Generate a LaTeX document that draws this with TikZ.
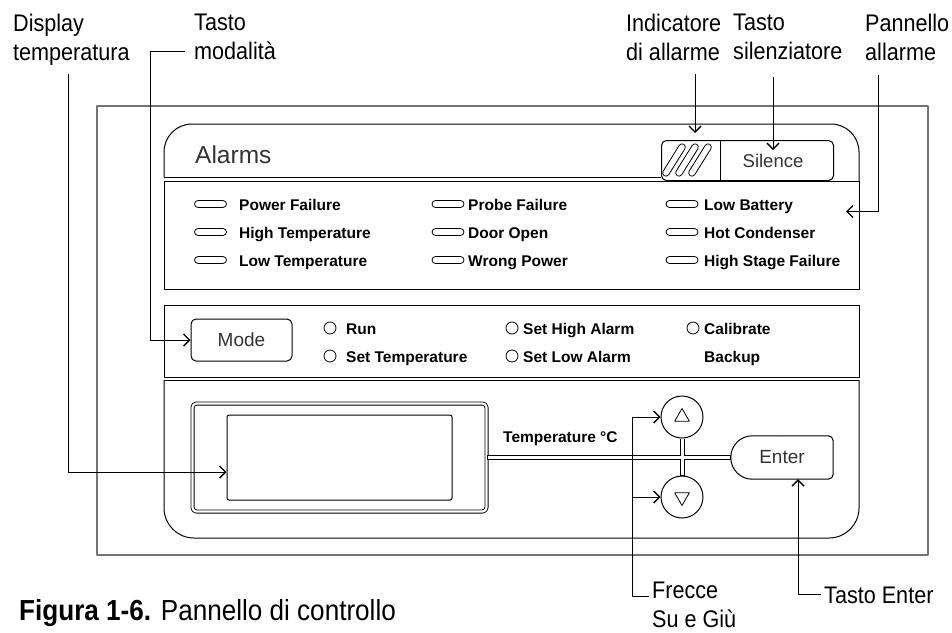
\documentclass[tikz,border=0pt]{standalone}
\usepackage{fontspec}
\setmainfont{Liberation Sans}
\newfontfamily\calloutfont[FakeStretch=0.9]{Liberation Sans}
\usetikzlibrary{shapes.geometric,arrows.meta,positioning,calc}

\tikzset{
  calloutline/.style={line width=1pt, -{Straight Barb[length=6pt,width=12pt,line width=1.4pt]}},
  lbl/.style={font=\calloutfont\fontsize{24}{29}\selectfont, align=left, inner sep=0pt, anchor=north west},
  item/.style={font=\bfseries\fontsize{15.5}{18}\selectfont, inner sep=0pt, anchor=base west},
  led/.style={draw, line width=0.8pt, rounded corners=3.5pt, minimum width=32pt, minimum height=7pt, inner sep=0pt},
  slot/.style={draw, line width=0.8pt, rounded corners=3.3pt, minimum width=37pt, minimum height=6.6pt, inner sep=0pt, rotate=58},
  radio/.style={circle, draw, line width=0.8pt, minimum size=12pt, inner sep=0pt},
  btn/.style={draw, line width=1pt, rounded corners=5pt, text=black!80, font=\fontsize{19}{22}\selectfont},
  panel/.style={draw, line width=1pt, inner sep=0pt, anchor=north west},
  arrowbtn/.style={circle, draw, line width=1pt, minimum size=42pt, inner sep=0pt},
  tri/.style={regular polygon, regular polygon sides=3, draw, line width=0.8pt, minimum size=17pt, inner sep=0pt}
}

\begin{document}
\begin{tikzpicture}[x=1pt, y=-1pt, line join=round]
  \useasboundingbox (0,0) rectangle (952,632);

  % Housing
  \draw[black!55, line width=1.4pt] (97,106) rectangle (928,555);

  % Alarm header
  \draw[line width=1pt, rounded corners=28pt] (164,177) -- (164,124) -- (859,124) -- (859,181);
  \node[item, font=\fontsize{24.5}{28}\selectfont, text=black!80] (alarmsttl) at (195,163) {Alarms};
  \node[panel, rounded corners=5pt, minimum width=172, minimum height=40] (indbox) at (661,140) {};
  \node[inner sep=0pt, minimum width=59, minimum height=40, anchor=north west] (indic) at (661,140) {};
  \draw[line width=1pt] (164,177) -- (661,177);
  \draw[line width=1pt] (indic.north east) -- (indic.south east);
  \foreach \dx [count=\i] in {0,13,26}
    \node[slot] (hatch\i) at ({674+\dx},160) {};
  \node[text=black!80, font=\fontsize{18.5}{22}\selectfont] (silence) at (773,160.5) {Silence};

  % Alarm list
  \node[panel, minimum width=695, minimum height=108] (alarmlist) at (164,181) {};
  \foreach \yy/\a/\b/\c [count=\i] in {204/Power Failure/Probe Failure/Low Battery,
      232/High Temperature/Door Open/Hot Condenser,
      260/Low Temperature/Wrong Power/High Stage Failure} {
    \node[led] (leda\i) at (210.5,\yy) {};
    \node[led] (ledb\i) at (448,\yy) {};
    \node[led] (ledc\i) at (682,\yy) {};
    \node[item] (alma\i) at (239,\yy+6) {\a};
    \node[item] (almb\i) at (468,\yy+6) {\b};
    \node[item] (almc\i) at (704,\yy+6) {\c};
  }

  % Mode panel
  \node[panel, minimum width=695, minimum height=72] (modepanel) at (164,305) {};
  \node[btn, minimum width=101, minimum height=42] (mode) at (241.5,340) {Mode};
  \node[radio] (rrun) at (330,328) {};
  \node[item] (trun) at (346,334) {Run};
  \node[radio] (rsettemp) at (330,356) {};
  \node[item] (tsettemp) at (346,362) {Set Temperature};
  \node[radio] (rhigh) at (512,328) {};
  \node[item] (thigh) at (523,334) {Set High Alarm};
  \node[radio] (rlow) at (512,356) {};
  \node[item] (tlow) at (523,362) {Set Low Alarm};
  \node[radio] (rcal) at (693,328) {};
  \node[item] (tcal) at (704,334) {Calibrate};
  \node[item] (tback) at (704,362) {Backup};

  % Display panel
  \draw[line width=1pt, rounded corners=30pt] (164,380) -- (164,538) -- (859,538) -- (859,380);
  \draw[line width=1pt] (164,380) -- (859,380);
  \node[draw, line width=0.9pt, double, double distance=2.2pt, rounded corners=4pt,
        minimum width=294, minimum height=108] (dispframe) at (339.5,457.5) {};
  \node[draw, line width=1pt, rounded corners=2pt, minimum width=225, minimum height=85] (screen) at (339.5,457.5) {};
  \node[item] (templbl) at (503,442) {Temperature °C};
  \node[arrowbtn] (up) at (682,417) {};
  \node[arrowbtn] (down) at (682,497) {};
  \node[tri] (uptri) at (up) {};
  \node[tri, shape border rotate=180] (downtri) at (down) {};
  \node[text=black!80, font=\fontsize{19}{22}\selectfont, minimum width=102, minimum height=43,
        inner sep=0pt] (enter) at (782,457.5) {Enter};
  \draw[line width=1pt, rounded corners=21.5pt] (enter.north) -- (enter.north west) -- (enter.south west) -- (enter.south);
  \draw[line width=1pt, rounded corners=5pt] (enter.north) -- (enter.north east) -- (enter.south east) -- (enter.south);

  % Rails
  \draw[line width=5pt] (dispframe.east) -- (enter.west) (up.south) -- (down.north);
  \draw[white, line width=3pt, shorten <=0.6pt, shorten >=0.6pt] (dispframe.east) -- (enter.west);
  \draw[white, line width=3pt, shorten <=0.6pt, shorten >=0.6pt] (up.south) -- (down.north);

  % Labels
  \node[lbl] (lbldisp) at (13,14) {Display\\temperatura};
  \node[lbl] (lblmode) at (194,14) {Tasto\\modalità};
  \node[lbl] (lblind) at (626,14) {Indicatore\\di allarme};
  \node[lbl] (lblsil) at (733,14) {Tasto\\silenziatore};
  \node[lbl] (lblpan) at (865,14) {Pannello\\allarme};
  \node[lbl] (lblarr) at (652,582) {Frecce\\Su e Giù};
  \node[lbl, anchor=base west] (lblent) at (824,603) {Tasto Enter};

  % Callouts
  \draw[calloutline] (lbldisp.south west) ++(55,8) |- ([yshift=-14.5pt]screen.west);
  \draw[calloutline] (lblmode.south west) ++(-9,-9) -| ([xshift=-40pt]mode.west) -- (mode.west);
  \draw[calloutline, shorten >=7pt] (lblind.south west) ++(69,13) coordinate (indtop) -- (indtop |- indic.north);
  \draw[calloutline] (lblsil.south west) ++(40,17) coordinate (siltop) -- (siltop |- silence.north);
  \draw[calloutline] (lblpan.south west) ++(13,14) |- ([xshift=-14pt,yshift=24pt]alarmlist.east);
  \draw[calloutline] (lblarr.north west) ++(-3,14) -| ([xshift=-28pt]up.west) -- (up.west);
  \draw[calloutline] ([xshift=-28pt]down.west) -- (down.west);
  \draw[calloutline] (lblent.west) ++(-3,0) -| ([xshift=16pt]enter.south);

  % Caption
  \node[anchor=base west, inner sep=0pt, font=\calloutfont\fontsize{29}{34}\selectfont] (caption)
    at (19,620) {\textbf{Figura 1-6.} Pannello di controllo};
\end{tikzpicture}
\end{document}
